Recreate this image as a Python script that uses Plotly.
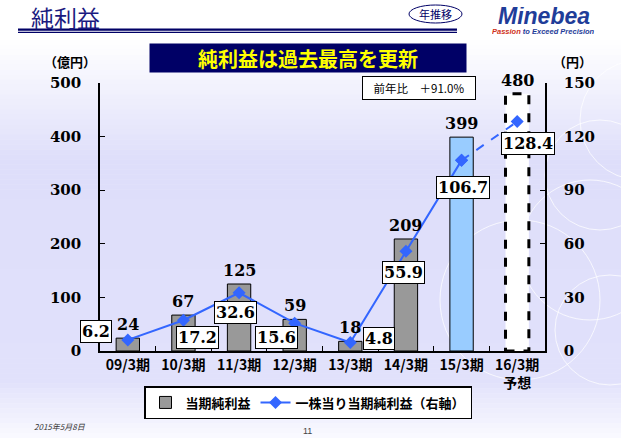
import plotly.graph_objects as go

# ---------------- data ----------------
categories = ["09/3期", "10/3期", "11/3期", "12/3期", "13/3期", "14/3期", "15/3期", "16/3期<br>予想"]
net_income = [24, 67, 125, 59, 18, 209, 399, 480]          # 億円 (left axis)
eps = [6.2, 17.2, 32.6, 15.6, 4.8, 55.9, 106.7, 128.4]     # 円 (right axis)
left_ticks = [0, 100, 200, 300, 400, 500]
right_ticks = [0, 30, 60, 90, 120, 150]
bar_name = "当期純利益"
line_name = "一株当り当期純利益（右軸）"
title_text = "純利益"
banner_text = "純利益は過去最高を更新"
yoy_text = "前年比　＋91.0%"

# ---------------- style ----------------
W, H = 621, 438
PL, PR, PT, PB = 100, 545, 83, 351
NUM_FONT = "DejaVu Serif"
JP_FONT = "Noto Sans CJK JP"
LINE_COLOR = "#3366FF"
NAVY = "#000066"
bar_colors = ["#999999"] * 6 + ["#99CCFF", "#FFFFFF"]
bar_line_w = [1] * 7 + [0]
eps_shift = [(-32, 8), (14, -17), (-4, -20), (-18, -14), (29, 4), (-2, -21), (1, -27), (11, -22)]


def px(x):
    return (x - PL) / (PR - PL)


def py(y):
    return (PB - y) / (PB - PT)


fig = go.Figure()

fig.add_trace(go.Bar(
    x=categories, y=net_income, name=bar_name,
    marker=dict(color=bar_colors, line=dict(color="#000000", width=bar_line_w)),
    width=0.42, yaxis="y", showlegend=True,
))

n_solid = len(categories) - 1
fig.add_trace(go.Scatter(
    x=categories[:n_solid], y=eps[:n_solid], name=line_name, yaxis="y2",
    mode="lines+markers",
    line=dict(color=LINE_COLOR, width=2),
    marker=dict(symbol="diamond", size=10, color=LINE_COLOR),
))
fig.add_trace(go.Scatter(
    x=categories[n_solid - 1:], y=eps[n_solid - 1:], yaxis="y2",
    mode="lines+markers", showlegend=False,
    line=dict(color=LINE_COLOR, width=2, dash="dash"),
    marker=dict(symbol="diamond", size=10, color=LINE_COLOR),
))

shapes = []
# background gradient bands
stops = [(0, (255, 255, 255)), (40, (255, 255, 255)), (160, (222, 222, 250)),
         (380, (225, 225, 251)), (438, (250, 250, 255))]
n_band = 88
for i in range(n_band):
    y0 = H * i / n_band
    y1 = H * (i + 1) / n_band
    ym = (y0 + y1) / 2
    for (a, ca), (b, cb) in zip(stops[:-1], stops[1:]):
        if a <= ym <= b:
            t = (ym - a) / (b - a) if b > a else 0
            c = tuple(int(round(ca[k] + (cb[k] - ca[k]) * t)) for k in range(3))
            break
    shapes.append(dict(type="rect", xref="paper", yref="paper", layer="below",
                       x0=px(0), x1=px(W), y0=py(y1 + 0.5), y1=py(y0),
                       line=dict(width=0), fillcolor="rgb(%d,%d,%d)" % c))
# faint decorative circles
for cx, cy, r in [(600, 175, 55), (590, 250, 70), (610, 330, 55), (520, 300, 80), (640, 120, 60)]:
    shapes.append(dict(type="circle", xref="paper", yref="paper", layer="below",
                       x0=px(cx - r), x1=px(cx + r), y0=py(cy + r), y1=py(cy - r),
                       line=dict(color="rgba(255,255,255,0.75)", width=1)))
# title underline (double)
shapes.append(dict(type="line", xref="paper", yref="paper", x0=px(18), x1=px(457),
                   y0=py(29.6), y1=py(29.6), line=dict(color=NAVY, width=2.2)))
shapes.append(dict(type="line", xref="paper", yref="paper", x0=px(18), x1=px(457),
                   y0=py(32.4), y1=py(32.4), line=dict(color=NAVY, width=1.3)))
# ellipse around 年推移
shapes.append(dict(type="circle", xref="paper", yref="paper", x0=px(409), x1=px(462),
                   y0=py(23), y1=py(5), line=dict(color=NAVY, width=1)))
# dashed outline for the forecast bar
fi = len(categories) - 1
shapes.append(dict(type="rect", xref="x", yref="y", x0=fi - 0.21, x1=fi + 0.21,
                   y0=0, y1=net_income[fi], line=dict(color="#000000", width=3, dash="dash")))

annotations = []
# bar value labels
for c, v in zip(categories, net_income):
    annotations.append(dict(x=c, y=v, xref="x", yref="y", text=str(v), showarrow=False,
                            xanchor="center", yanchor="bottom", yshift=2,
                            font=dict(family=NUM_FONT, size=16, color="#000000", weight="bold")))
# EPS labels in boxes
for c, v, (dx, dy) in zip(categories, eps, eps_shift):
    annotations.append(dict(x=c, y=v, xref="x", yref="y2", text=f"{v:.1f}", showarrow=False,
                            xanchor="center", yanchor="middle",
                            xshift=dx, yshift=dy, bgcolor="#FFFFFF", bordercolor="#000000",
                            borderwidth=1, borderpad=1,
                            font=dict(family=NUM_FONT, size=16, color="#000000", weight="bold")))


def page_text(x, y, text, font, **kw):
    d = dict(x=px(x), y=py(y), xref="paper", yref="paper", text=text, showarrow=False,
             xanchor="center", yanchor="middle", font=font)
    d.update(kw)
    return d


annotations += [
    page_text(29, 17, title_text, dict(family=JP_FONT, size=23, color="#1a1a80"), xanchor="left"),
    page_text(435.5, 14, "年推移", dict(family=JP_FONT, size=11, color=NAVY)),
    page_text(543.5, 16, "<i><b>Minebea</b></i>", dict(family="Liberation Sans", size=23, color="#1f3d99"),
              height=18),
    page_text(543.5, 31, "<i><b><span style='color:#d03020'>Passion</span> to Exceed Precision</b></i>",
              dict(family="Liberation Sans", size=7.5, color="#1f3d99"), height=9),
    page_text(308, 57.5, banner_text, dict(family=JP_FONT, size=20, color="#FFFF00", weight="bold"),
              width=314, height=26, bgcolor=NAVY),
    page_text(419, 88, yoy_text, dict(family=JP_FONT, size=11.5, color="#000000"),
              width=110, height=20, bgcolor="#FFFFFF", bordercolor="#000000", borderwidth=1),
    page_text(70, 62, "（億円）", dict(family=JP_FONT, size=13, color="#000000", weight="bold")),
    page_text(572, 62, "（円）", dict(family=JP_FONT, size=13, color="#000000", weight="bold")),
    page_text(32, 426, "<i>2015年5月8日</i>", dict(family=JP_FONT, size=8, color="#333333"),
              xanchor="left"),
    page_text(307, 431, "11", dict(family="Liberation Sans", size=9, color="#444444")),
]

tickfont_num = dict(family=NUM_FONT, size=15, color="#000000", weight="bold")
fig.update_layout(
    width=W, height=H,
    margin=dict(l=PL, r=W - PR, t=PT, b=H - PB, autoexpand=False),
    paper_bgcolor="#FFFFFF", plot_bgcolor="rgba(0,0,0,0)",
    bargap=0.5,
    xaxis=dict(type="category", range=[-0.5, len(categories) - 0.5],
               showline=True, linecolor="#000000", linewidth=1.5,
               ticks="inside", ticklen=5, tickcolor="#000000", tickson="boundaries",
               showgrid=False, zeroline=False, tickangle=0, automargin=False,
               tickfont=dict(family=JP_FONT, size=14, color="#000000", weight="bold")),
    yaxis=dict(range=[0, 500], tickvals=left_ticks, showline=True, linecolor="#000000",
               linewidth=1.5, ticks="inside", ticklen=5, tickcolor="#000000", automargin=False,
               showgrid=False, zeroline=False, tickfont=tickfont_num, ticklabelstandoff=14),
    yaxis2=dict(range=[0, 150], tickvals=right_ticks, overlaying="y", side="right",
                showline=True, linecolor="#000000", linewidth=1.5, ticks="inside", ticklen=5,
                tickcolor="#000000", showgrid=False, zeroline=False, tickfont=tickfont_num,
                ticklabelstandoff=14, automargin=False),
    legend=dict(orientation="h", x=px(308), xanchor="center", y=py(386), yanchor="top",
                bgcolor="#FFFFFF", bordercolor="#000000", borderwidth=1.5,
                font=dict(family=JP_FONT, size=13, color="#000000", weight="bold"),
                itemwidth=30),
    shapes=shapes,
    annotations=annotations,
    showlegend=True,
)

fig.write_html("out.html", config={"displayModeBar": False},
               post_script="document.body.style.margin='0px';")
